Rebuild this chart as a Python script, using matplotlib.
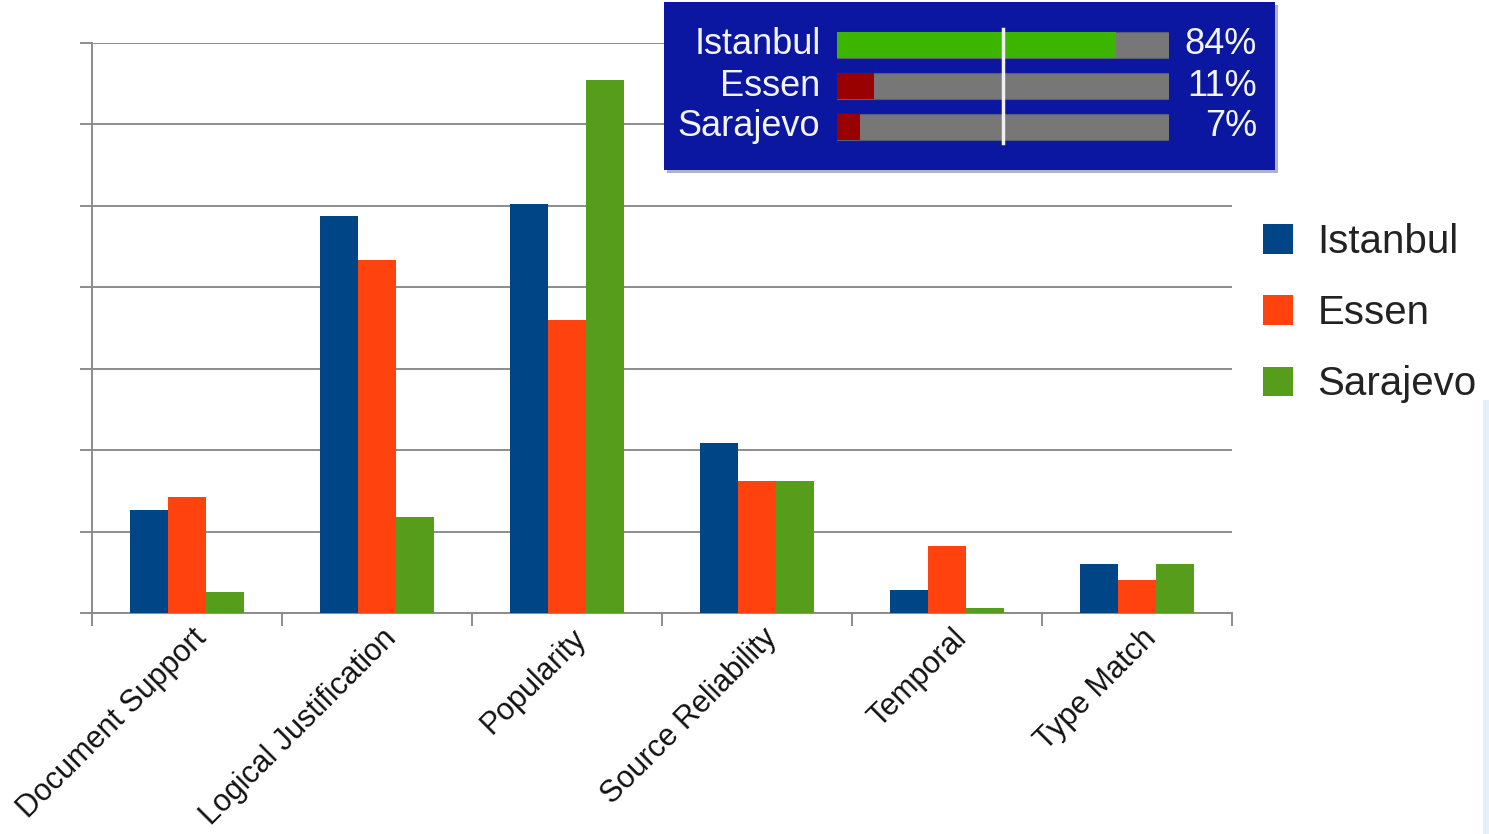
import numpy as np
import matplotlib
matplotlib.use("Agg")
from matplotlib import pyplot as plt
from matplotlib.patches import Patch, Rectangle
from matplotlib.transforms import ScaledTranslation

plt.rcParams['font.family'] = ['Liberation Sans', 'DejaVu Sans']

# data
categories = ["Document Support", "Logical Justification", "Popularity",
              "Source Reliability", "Temporal", "Type Match"]
istanbul = [1.26, 4.88, 5.02, 2.09, 0.28, 0.60]
essen = [1.42, 4.33, 3.60, 1.62, 0.82, 0.40]
sarajevo = [0.26, 1.18, 6.55, 1.62, 0.06, 0.60]
series_names = ["Istanbul", "Essen", "Sarajevo"]
series_colors = ["#004586", "#ff420e", "#579d1c"]

# inset summary
inset_names = ["Istanbul", "Essen", "Sarajevo"]
inset_pct = [84, 11, 7]
inset_colors = ["#3cb500", "#990000", "#990000"]

W, H = 1489, 834
fig = plt.figure(figsize=(W / 100, H / 100), dpi=100)

# main axes
ax = fig.add_axes([92 / W, 1 - 613 / H, (1232 - 92) / W, (613 - 43) / H])
x = np.arange(len(categories)) + 0.5
bw = 0.2
for k, vals in enumerate([istanbul, essen, sarajevo]):
    ax.bar(x + (k - 1) * bw, vals, width=bw, color=series_colors[k], zorder=3)

ax.set_xlim(0, len(categories))
ax.set_ylim(0, 7)
ax.set_yticks(np.arange(0, 8))
ax.set_yticklabels([])
ax.yaxis.grid(True, color="#8c8c8c", linewidth=1.4, zorder=0)
ax.tick_params(axis="y", length=9, width=1.4, color="#8c8c8c")

ax.set_xticks(np.arange(0, len(categories) + 1))
ax.set_xticklabels([])
ax.tick_params(axis="x", which="major", length=9, width=1.4, color="#8c8c8c", direction="out")
ax.set_xticks(x, minor=True)
ax.set_xticklabels(categories, minor=True, rotation=45, ha="right", va="center",
                   rotation_mode="anchor", fontsize=22, color="#111111")
ax.tick_params(axis="x", which="minor", length=0, pad=15)
shift = ScaledTranslation(15 / 100, 0, fig.dpi_scale_trans)
for lab in ax.get_xticklabels(minor=True):
    lab.set_transform(lab.get_transform() + shift)

for s in ["top", "right"]:
    ax.spines[s].set_visible(False)
for s in ["left", "bottom"]:
    ax.spines[s].set_color("#8c8c8c")
    ax.spines[s].set_linewidth(1.4)

# legend
handles = [Patch(facecolor=c, edgecolor="none") for c in series_colors]
fig.legend(handles, series_names, loc="upper left", bbox_to_anchor=(1227 / W, 1 - 187 / H),
           frameon=False, fontsize=29, handlelength=0.75, handleheight=0.75,
           labelspacing=0.82, handletextpad=0.6, labelcolor="#222222")

# inset box
fig.patches.append(Rectangle((667 / W, 1 - 173 / H), (1278 - 667) / W, (173 - 5) / H,
                             transform=fig.transFigure, facecolor="#b0b0c8", edgecolor="none", zorder=5))
fig.patches.append(Rectangle((664 / W, 1 - 170 / H), (1275 - 664) / W, (170 - 2) / H,
                             transform=fig.transFigure, facecolor="#0b17a0", edgecolor="none", zorder=6))

iax = fig.add_axes([837 / W, 1 - 147.5 / H, (1169 - 837) / W, (147.5 - 24.5) / H], zorder=10)
iax.set_facecolor("none")
rows = np.arange(len(inset_names))
iax.barh(rows, [100] * len(rows), height=0.62, color="#777777", edgecolor="#5a5a7a", linewidth=0.8)
iax.barh(rows, inset_pct, height=0.62, color=inset_colors)
iax.axvline(50, ymin=0.04, ymax=0.96, color="#f0f0f0", linewidth=2.5)
iax.set_xlim(0, 100)
iax.set_ylim(2.5, -0.5)
iax.axis("off")
for r, (nm, p) in enumerate(zip(inset_names, inset_pct)):
    iax.text(-5.0, r, nm, ha="right", va="center", fontsize=26, color="#f4f4f4")
    iax.text(126.5, r, f"{p}%", ha="right", va="center", fontsize=26, color="#f4f4f4")

# light strip at right edge
fig.patches.append(Rectangle((1483 / W, 0), 6 / W, 1 - 400 / H, transform=fig.transFigure,
                             facecolor="#e6f0fb", edgecolor="none"))

fig.savefig("out.png", dpi=100)
